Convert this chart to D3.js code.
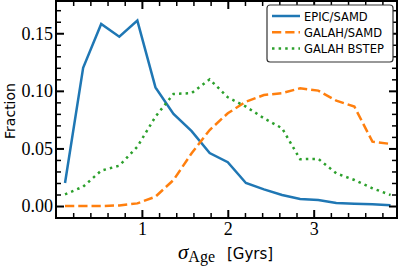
<!DOCTYPE html>
<html>
<head>
<meta charset="utf-8">
<script src="https://cdn.jsdelivr.net/npm/d3@7"></script>
<style>
  body { margin: 0; background: #fff; }
  .tick text { font-family: "Liberation Serif", serif; font-size: 18px; fill: #000; }
</style>
</head>
<body>
<div class="chart"></div>
<script>
// bin centres (19 bins between 0 and 4 Gyr)
const binCenters = [0.105, 0.316, 0.526, 0.737, 0.947, 1.158, 1.368, 1.579, 1.789, 2.0,
                    2.211, 2.421, 2.632, 2.842, 3.053, 3.263, 3.474, 3.684, 3.895];
const epicSamd = [0.020, 0.120, 0.158, 0.147, 0.161, 0.103, 0.080, 0.065, 0.046, 0.038,
                  0.020, 0.0145, 0.0096, 0.0061, 0.0052, 0.0026, 0.002, 0.0015, 0.0006];
const galahSamd = [0.0, 0.0, 0.0, 0.0005, 0.0023, 0.0081, 0.0226, 0.0458, 0.066, 0.0805,
                   0.0906, 0.0964, 0.098, 0.1022, 0.1002, 0.0915, 0.0863, 0.0559, 0.0539];
const galahBstep = [0.0101, 0.0168, 0.0307, 0.035, 0.0515, 0.0776, 0.0973, 0.098, 0.110, 0.0944,
                    0.0863, 0.0762, 0.0675, 0.0406, 0.041, 0.0284, 0.0226, 0.0154, 0.0096];
const seriesNames = ["EPIC/SAMD", "GALAH/SAMD", "GALAH BSTEP"];
const xTicks = [1, 2, 3];
const yTicks = [0, 0.05, 0.10, 0.15];

const W = 399, H = 266;
const margin = { left: 56, right: 397, top: 1, bottom: 218 };

const svg = d3.select(".chart").append("svg")
    .attr("width", W)
    .attr("height", H);

let x = d3.scaleLinear().domain([0, 3.97]).range([margin.left, margin.right]);
let y = d3.scaleLinear().domain([-0.0104, 0.178]).range([margin.bottom, margin.top]);

const styles = [
    { color: "#1f77b4", dash: null },
    { color: "#ff7f0e", dash: "9.25,4" },
    { color: "#2ca02c", dash: "2.5,4.1" }
];
const allSeries = [epicSamd, galahSamd, galahBstep];

const line = d3.line()
    .x((d, i) => x(binCenters[i]))
    .y(d => y(d));

svg.selectAll(".series")
    .data(allSeries)
    .enter()
    .append("path")
    .attr("class", "series")
    .attr("fill", "none")
    .attr("stroke", (d, i) => styles[i].color)
    .attr("stroke-width", 2.5)
    .attr("stroke-dasharray", (d, i) => styles[i].dash)
    .attr("d", line);

// minor ticks every 0.2 on x, 0.01 on y
const xMinor = d3.range(0.2, 3.97, 0.2).filter(v => Math.abs(v - Math.round(v)) > 1e-6);
const yMinor = d3.range(-0.01, 0.178, 0.01).filter(v => Math.abs(v / 0.05 - Math.round(v / 0.05)) > 1e-6);

function addAxes(axisFn, scale, pos, major, minor, labels, fmt) {
    svg.append("g")
        .attr("transform", pos)
        .call(axisFn(scale).tickValues(minor).tickSize(-5).tickFormat(""))
        .call(g => g.select(".domain").remove())
        .call(g => g.selectAll("line").attr("stroke", "#000").attr("stroke-width", 1.5));
    let g = svg.append("g")
        .attr("transform", pos)
        .call(axisFn(scale).tickValues(major).tickSize(-8).tickPadding(labels ? 4 : 0)
            .tickFormat(labels ? fmt : ""));
    g.select(".domain").remove();
    g.selectAll("line").attr("stroke", "#000").attr("stroke-width", 2);
    return g;
}

addAxes(d3.axisBottom, x, `translate(0,${margin.bottom})`, xTicks, xMinor, true, d3.format("d"));
addAxes(d3.axisTop, x, `translate(0,${margin.top})`, xTicks, xMinor, false);
addAxes(d3.axisLeft, y, `translate(${margin.left},0)`, yTicks, yMinor, true, d3.format(".2f"))
    .selectAll("text").attr("x", -3);
addAxes(d3.axisRight, y, `translate(${margin.right},0)`, yTicks, yMinor, false);

// frame
svg.append("rect")
    .attr("x", margin.left).attr("y", margin.top)
    .attr("width", margin.right - margin.left).attr("height", margin.bottom - margin.top)
    .attr("fill", "none")
    .attr("stroke", "#000")
    .attr("stroke-width", 2);

// axis labels
svg.append("text")
    .attr("transform", "translate(15,111) rotate(-90)")
    .attr("text-anchor", "middle")
    .style("font-family", "DejaVu Sans, sans-serif")
    .style("font-size", "14px")
    .text("Fraction");

let xl = svg.append("text")
    .attr("x", 178).attr("y", 259)
    .style("font-family", "Liberation Serif, serif");
xl.append("tspan").style("font-style", "italic").style("font-size", "21px").text("σ");
xl.append("tspan").attr("dy", 3).style("font-size", "16px").text("Age");
svg.append("text")
    .attr("x", 227).attr("y", 259)
    .style("font-family", "DejaVu Sans, sans-serif")
    .style("font-size", "15px")
    .text("[Gyrs]");

// legend
let legend = svg.append("g");
legend.append("rect")
    .attr("x", 267).attr("y", 5)
    .attr("width", 126).attr("height", 57)
    .attr("rx", 3)
    .attr("fill", "#fff")
    .attr("stroke", "#333")
    .attr("stroke-width", 1.2);

seriesNames.forEach((name, i) => {
    let yy = 16 + i * 16.2;
    legend.append("line")
        .attr("x1", 272).attr("x2", 300)
        .attr("y1", yy).attr("y2", yy)
        .attr("stroke", styles[i].color)
        .attr("stroke-width", 2.5)
        .attr("stroke-dasharray", styles[i].dash);
    legend.append("text")
        .attr("x", 304).attr("y", yy + 4.5)
        .style("font-family", "DejaVu Sans, sans-serif")
        .style("font-size", "11.5px")
        .text(name);
});
</script>
</body>
</html>
